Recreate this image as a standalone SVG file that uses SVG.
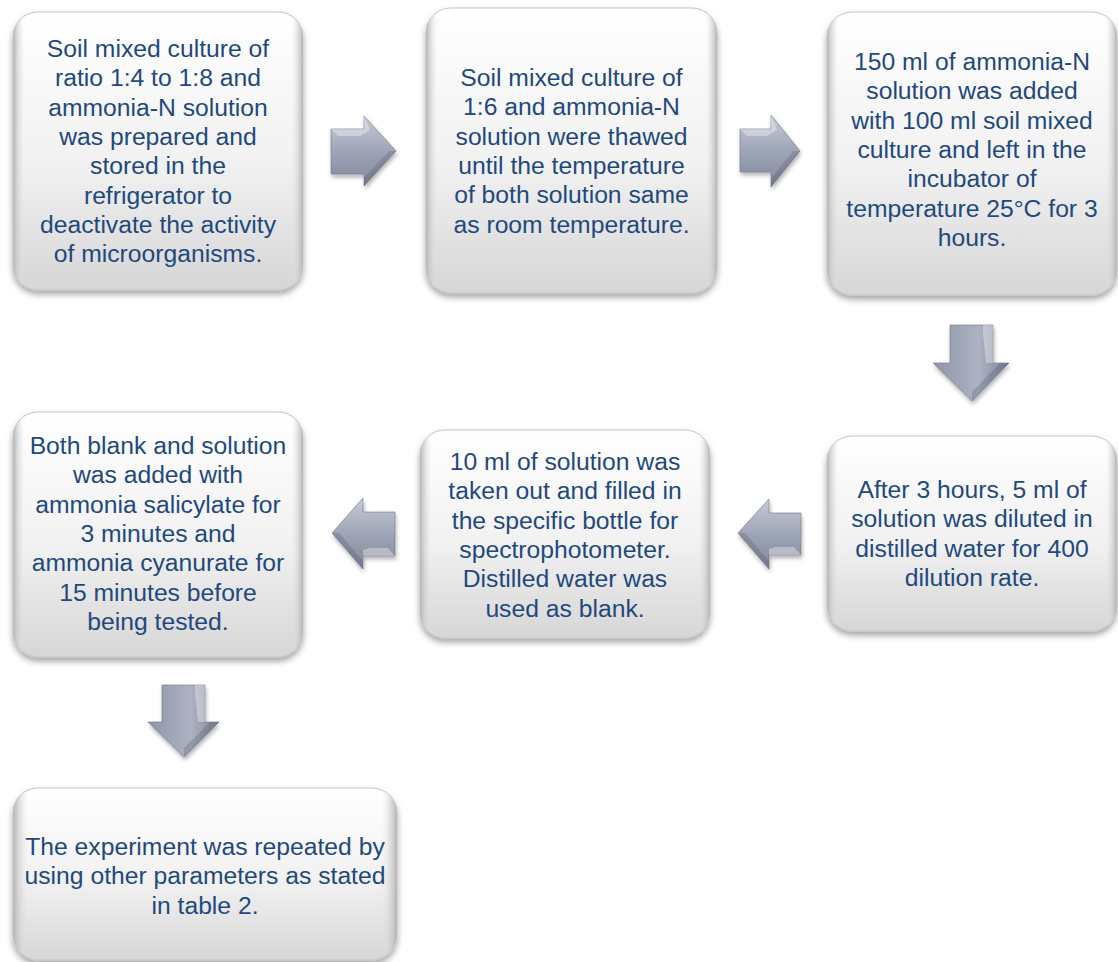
<svg xmlns="http://www.w3.org/2000/svg" width="1118" height="962" viewBox="0 0 1118 962">
<defs>
<linearGradient id="boxg" x1="0" y1="0" x2="0" y2="1">
<stop offset="0" stop-color="#ffffff"/>
<stop offset="0.55" stop-color="#f1f1f1"/>
<stop offset="1" stop-color="#d6d6d6"/>
</linearGradient>
<linearGradient id="rim" x1="0" y1="0" x2="1" y2="0">
<stop offset="0" stop-color="#b5b5b5"/>
<stop offset="0.04" stop-color="#e6e6e6" stop-opacity="0"/>
<stop offset="0.96" stop-color="#e6e6e6" stop-opacity="0"/>
<stop offset="1" stop-color="#b5b5b5"/>
</linearGradient>
<linearGradient id="arrh" x1="0" y1="0" x2="0" y2="1">
<stop offset="0" stop-color="#c6cbd7"/>
<stop offset="0.5" stop-color="#9ea5b6"/>
<stop offset="1" stop-color="#80879a"/>
</linearGradient>
<linearGradient id="arrv" x1="0" y1="0" x2="1" y2="0">
<stop offset="0" stop-color="#8f96a8"/>
<stop offset="0.6" stop-color="#acb2c1"/>
<stop offset="1" stop-color="#7e8597"/>
</linearGradient>
<filter id="sh" x="-10%" y="-10%" width="120%" height="125%">
<feDropShadow dx="0" dy="4" stdDeviation="3" flood-color="#000" flood-opacity="0.35"/>
</filter>
<filter id="ash" x="-20%" y="-20%" width="140%" height="150%">
<feDropShadow dx="1" dy="3" stdDeviation="2" flood-color="#000" flood-opacity="0.3"/>
</filter>
</defs>
<style>
.box{fill:url(#boxg);stroke:#c4c4c4;stroke-width:1;filter:url(#sh);}
.rim{fill:url(#rim);stroke:none;}
.t{font-family:"Liberation Sans",Arial,sans-serif;font-size:24.7px;fill:#1f497d;text-anchor:middle;}
.ah{fill:url(#arrh);stroke:#6f7688;stroke-width:0.6;filter:url(#ash);}
.av{fill:url(#arrv);stroke:#6f7688;stroke-width:0.6;filter:url(#ash);}
.hl{fill:#ffffff;opacity:0.35;}
.dk{fill:#4a5164;opacity:0.25;}
</style>
<rect width="1118" height="962" fill="#ffffff"/>

<g id="connectors">
<g id="a1">
<polygon class="ah" points="331,129 364,129 364,116 396,151 364,186 364,174 331,174"/>
<polygon class="hl" points="331,129 364,129 364,116 370,130 360,136 338,136"/>
<polygon class="dk" points="364,186 396,151 389,151 364,178"/>
</g>
<g id="a2">
<polygon class="ah" points="740,129 771,129 771,115 800,151 771,187 771,172 740,172"/>
<polygon class="hl" points="740,129 771,129 771,115 777,130 767,136 747,136"/>
<polygon class="dk" points="771,187 800,151 793,151 771,179"/>
</g>
<g id="a3">
<polygon class="av" points="950,325 993,325 993,363 1009,363 972,401 933,363 950,363"/>
<polygon class="hl" points="983,325 993,325 993,363 986,363 983,333"/>
<polygon class="dk" points="972,401 1009,363 1000,363 972,392"/>
</g>
<g id="a4">
<polygon class="ah" points="801,513 769,513 769,499 738,533 769,569 769,555 801,555"/>
<polygon class="hl" points="769,555 801,555 794,547 776,547 769,549"/>
<polygon class="dk" points="738,533 769,569 769,561 745,533"/>
</g>
<g id="a5">
<polygon class="ah" points="395,512 363,512 363,498 332,533 363,569 363,556 395,556"/>
<polygon class="hl" points="363,556 395,556 388,548 370,548 363,550"/>
<polygon class="dk" points="332,533 363,569 363,561 339,533"/>
</g>
<g id="a6">
<polygon class="av" points="162,685 205,685 205,722 219,722 184,757 148,722 162,722"/>
<polygon class="hl" points="195,685 205,685 205,722 198,722 195,693"/>
<polygon class="dk" points="184,757 219,722 210,722 184,748"/>
</g>
</g>

<g id="n1">
<rect class="box" x="13" y="12" width="290" height="278" rx="25"/>
<rect class="rim" x="13" y="12" width="290" height="278" rx="25"/>
<text class="t" x="158" y="57">Soil mixed culture of</text>
<text class="t" x="158" y="86.3">ratio 1:4 to 1:8 and</text>
<text class="t" x="158" y="115.6">ammonia-N solution</text>
<text class="t" x="158" y="144.9">was prepared and</text>
<text class="t" x="158" y="174.2">stored in the</text>
<text class="t" x="158" y="203.5">refrigerator to</text>
<text class="t" x="158" y="232.8">deactivate the activity</text>
<text class="t" x="158" y="262.1">of microorganisms.</text>
</g>

<g id="n2">
<rect class="box" x="426" y="8" width="291" height="285" rx="25"/>
<rect class="rim" x="426" y="8" width="291" height="285" rx="25"/>
<text class="t" x="571.5" y="86">Soil mixed culture of</text>
<text class="t" x="571.5" y="115.3">1:6 and ammonia-N</text>
<text class="t" x="571.5" y="144.6">solution were thawed</text>
<text class="t" x="571.5" y="173.9">until the temperature</text>
<text class="t" x="571.5" y="203.2">of both solution same</text>
<text class="t" x="571.5" y="232.5">as room temperature.</text>
</g>

<g id="n3">
<rect class="box" x="827" y="12" width="290" height="283" rx="25"/>
<rect class="rim" x="827" y="12" width="290" height="283" rx="25"/>
<text class="t" x="972" y="70">150 ml of ammonia-N</text>
<text class="t" x="972" y="99.3">solution was added</text>
<text class="t" x="972" y="128.6">with 100 ml soil mixed</text>
<text class="t" x="972" y="157.9">culture and left in the</text>
<text class="t" x="972" y="187.2">incubator of</text>
<text class="t" x="972" y="216.5">temperature 25°C for 3</text>
<text class="t" x="972" y="245.8">hours.</text>
</g>

<g id="n4">
<rect class="box" x="827" y="436" width="290" height="195" rx="25"/>
<rect class="rim" x="827" y="436" width="290" height="195" rx="25"/>
<text class="t" x="972" y="498">After 3 hours, 5 ml of</text>
<text class="t" x="972" y="527.3">solution was diluted in</text>
<text class="t" x="972" y="556.6">distilled water for 400</text>
<text class="t" x="972" y="585.9">dilution rate.</text>
</g>

<g id="n5">
<rect class="box" x="420" y="430" width="290" height="208" rx="25"/>
<rect class="rim" x="420" y="430" width="290" height="208" rx="25"/>
<text class="t" x="565" y="470">10 ml of solution was</text>
<text class="t" x="565" y="499.3">taken out and filled in</text>
<text class="t" x="565" y="528.6">the specific bottle for</text>
<text class="t" x="565" y="557.9">spectrophotometer.</text>
<text class="t" x="565" y="587.2">Distilled water was</text>
<text class="t" x="565" y="616.5">used as blank.</text>
</g>

<g id="n6">
<rect class="box" x="13" y="412" width="290" height="245" rx="25"/>
<rect class="rim" x="13" y="412" width="290" height="245" rx="25"/>
<text class="t" x="158" y="454">Both blank and solution</text>
<text class="t" x="158" y="483.3">was added with</text>
<text class="t" x="158" y="512.6">ammonia salicylate for</text>
<text class="t" x="158" y="541.9">3 minutes and</text>
<text class="t" x="158" y="571.2">ammonia cyanurate for</text>
<text class="t" x="158" y="600.5">15 minutes before</text>
<text class="t" x="158" y="629.8">being tested.</text>
</g>

<g id="n7">
<rect class="box" x="13" y="788" width="384" height="172" rx="25"/>
<rect class="rim" x="13" y="788" width="384" height="172" rx="25"/>
<text class="t" x="205" y="855">The experiment was repeated by</text>
<text class="t" x="205" y="884.3">using other parameters as stated</text>
<text class="t" x="205" y="913.6">in table 2.</text>
</g>
</svg>
